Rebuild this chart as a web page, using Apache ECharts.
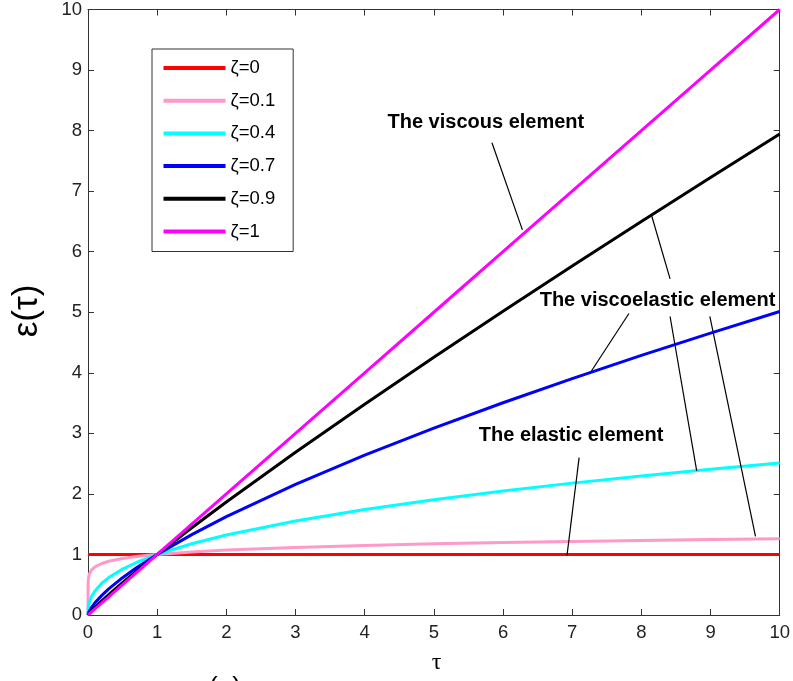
<!DOCTYPE html>
<html>
<head>
<meta charset="utf-8">
<script src="https://cdn.jsdelivr.net/npm/echarts@6/dist/echarts.min.js"></script>
<style>
html,body{margin:0;padding:0;background:#fff;}
#c{width:793px;height:681px;}
</style>
</head>
<body>
<div id="c"></div>
<script>
// τ sample points
const taus   = [0, 0.001, 0.005, 0.01, 0.02, 0.05, 0.1, 0.2, 0.3, 0.5, 0.7, 1, 1.5, 2, 3, 4, 5, 6, 7, 8, 9, 10];
// ε(τ) values read for each curve
const eps0   = [1, 1, 1, 1, 1, 1, 1, 1, 1, 1, 1, 1, 1, 1, 1, 1, 1, 1, 1, 1, 1, 1];
const eps01  = [0, 0.501, 0.589, 0.631, 0.676, 0.741, 0.794, 0.851, 0.887, 0.933, 0.965, 1, 1.041, 1.072, 1.116, 1.149, 1.175, 1.196, 1.215, 1.231, 1.246, 1.259];
const eps04  = [0, 0.063, 0.120, 0.158, 0.209, 0.302, 0.398, 0.525, 0.618, 0.758, 0.867, 1, 1.176, 1.320, 1.552, 1.741, 1.904, 2.048, 2.178, 2.297, 2.408, 2.512];
const eps07  = [0, 0.008, 0.024, 0.040, 0.065, 0.123, 0.200, 0.324, 0.431, 0.616, 0.779, 1, 1.328, 1.625, 2.158, 2.639, 3.085, 3.505, 3.905, 4.287, 4.656, 5.012];
const eps09  = [0, 0.002, 0.0085, 0.016, 0.030, 0.068, 0.126, 0.235, 0.338, 0.536, 0.725, 1, 1.440, 1.866, 2.688, 3.482, 4.257, 5.016, 5.762, 6.498, 7.225, 7.943];
const eps1   = [0, 0.001, 0.005, 0.01, 0.02, 0.05, 0.1, 0.2, 0.3, 0.5, 0.7, 1, 1.5, 2, 3, 4, 5, 6, 7, 8, 9, 10];

const names  = ['ζ=0', 'ζ=0.1', 'ζ=0.4', 'ζ=0.7', 'ζ=0.9', 'ζ=1'];
const colors = ['#ff0000', '#ff99c8', '#00ffff', '#0000ff', '#000000', '#ff00ff'];
const values = [eps0, eps01, eps04, eps07, eps09, eps1];

// annotation leader lines (data coordinates)
const annoLines = [
  [[5.84, 7.80], [6.28, 6.36]],
  [[8.15, 6.59], [8.415, 5.55]],
  [[7.82, 4.98], [7.25, 3.98]],
  [[8.415, 4.93], [8.80, 2.38]],
  [[8.99, 4.93], [9.65, 1.30]],
  [[7.10, 2.60], [6.925, 0.986]]
];
const annoTexts = [
  {text: 'The viscous element', at: [4.33, 8.13]},
  {text: 'The viscoelastic element', at: [6.53, 5.19]},
  {text: 'The elastic element', at: [5.65, 2.96]}
];

const FONT = 'Liberation Sans, Arial, Helvetica, sans-serif';
const axisColor = '#333';

const series = names.map((n, i) => ({
  name: n,
  type: 'line',
  xAxisIndex: 0, yAxisIndex: 0,
  data: taus.map((t, k) => [t, values[i][k]]),
  showSymbol: false,
  symbol: 'none',
  lineStyle: {color: colors[i], width: 3},
  itemStyle: {color: colors[i]},
  animation: false,
  z: 2 + i
}));

series.push({
  name: 'annotations',
  type: 'line',
  xAxisIndex: 1, yAxisIndex: 1,
  data: [[0, 0], [10, 10]],
  symbol: 'none',
  lineStyle: {opacity: 0, width: 0},
  silent: true,
  animation: false,
  markLine: {
    silent: true,
    symbol: ['none', 'none'],
    animation: false,
    label: {show: false},
    lineStyle: {color: '#000', width: 1.2, type: 'solid'},
    emphasis: {disabled: true},
    data: annoLines.map(l => [{coord: l[0]}, {coord: l[1]}])
  },
  z: 20
});

function makeAxis(pos, showLabel, margin) {
  return {
    type: 'value', min: 0, max: 10, interval: 1,
    position: pos,
    axisLine: {show: true, onZero: false, lineStyle: {color: axisColor, width: 1}},
    axisTick: {show: true, inside: false, length: -6, lineStyle: {color: axisColor, width: 1}},
    axisLabel: {show: showLabel, fontSize: 18.5, color: '#222', fontFamily: FONT, margin: margin},
    splitLine: {show: false}
  };
}

const option = {
  backgroundColor: '#fff',
  animation: false,
  grid: {left: 88, top: 6.3, right: 11.3, bottom: 66, containLabel: false},
  legend: {
    orient: 'vertical', left: 152, top: 49,
    padding: [9, 18, 10, 11.5],
    itemWidth: 62, itemHeight: 4, itemGap: 12.7,
    icon: 'rect',
    selectedMode: false,
    backgroundColor: '#fff', borderColor: '#333', borderWidth: 1, borderRadius: 0,
    textStyle: {fontSize: 18.5, color: '#000', fontFamily: FONT, lineHeight: 20},
    data: names
  },
  xAxis: [makeAxis('bottom', true, 8), makeAxis('top', false, 8)],
  yAxis: [makeAxis('left', true, 6), makeAxis('right', false, 6)],
  series: series
};

const chart = echarts.init(document.getElementById('c'), null, {renderer: 'canvas'});
chart.setOption(option);

function toPx(p) { return chart.convertToPixel({xAxisIndex: 0, yAxisIndex: 0}, p); }

const graphics = annoTexts.map(a => {
  const p = toPx(a.at);
  return {
    type: 'text', x: p[0], y: p[1], z: 30,
    style: {text: a.text, fill: '#000', font: 'bold 20px ' + FONT, textAlign: 'left', textVerticalAlign: 'middle'}
  };
});
graphics.push({
  type: 'text', x: 436.5, y: 663, z: 30,
  style: {text: 'τ', fill: '#000', font: '24px Liberation Serif, serif', textAlign: 'center', textVerticalAlign: 'middle'}
});
graphics.push({
  type: 'text', x: 27.5, y: 311, rotation: Math.PI / 2, z: 30,
  style: {text: 'ε(τ)', fill: '#000', font: '35px ' + FONT, textAlign: 'center', textVerticalAlign: 'middle'}
});
graphics.push({
  type: 'text', x: 225, y: 675, z: 30,
  style: {text: '(a)', fill: '#000', font: '26px ' + FONT, textAlign: 'center', textVerticalAlign: 'top'}
});
chart.setOption({graphic: graphics});
</script>
</body>
</html>
